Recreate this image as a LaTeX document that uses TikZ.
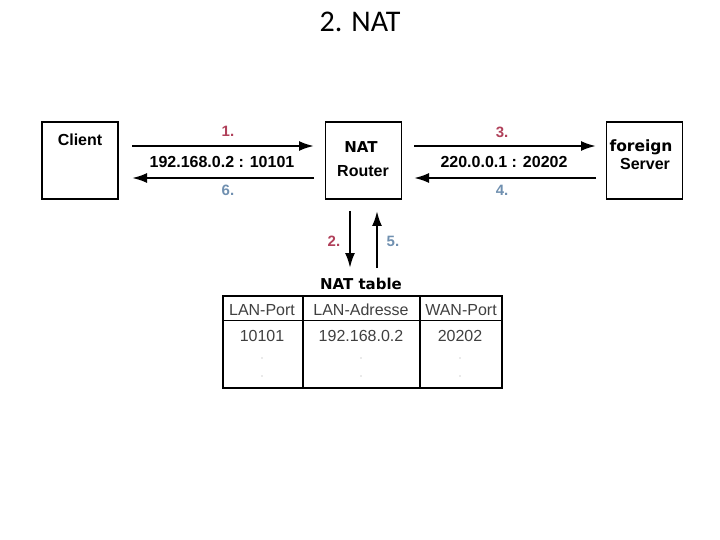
\documentclass[tikz,border=0pt]{standalone}
\usepackage{fontspec}
\setmainfont{Liberation Sans}
\newfontfamily\titlefont{Carlito}
\newfontfamily\djfont{DejaVu Sans}
\usetikzlibrary{arrows.meta}
\definecolor{redn}{HTML}{B0405A}
\definecolor{bluen}{HTML}{7090B0}
\definecolor{grayt}{HTML}{404040}
\tikzset{
  box/.style={draw, line width=1.8pt, minimum width=76pt, minimum height=77pt, inner sep=0pt},
  flow/.style={line width=2.2pt, -{Latex[length=15pt,width=10pt]}},
  lbl/.style={font=\bfseries\fontsize{16}{18}\selectfont},
  num/.style={font=\bfseries\fontsize{15}{17}\selectfont},
  cell/.style={font=\fontsize{16}{18}\selectfont, text=grayt},
  tline/.style={line width=1.6pt}
}
\begin{document}
\begin{tikzpicture}[x=1pt,y=-1pt]
\useasboundingbox (0,0) rectangle (720,540);
\node[font=\titlefont\fontsize{30}{33}\selectfont] (title) at (360,22) {2. NAT};

\node[box] (client) at (80,160.5) {};
\node[box] (router) at (363.5,160.5) {};
\node[box] (server) at (644.5,160.5) {};
\node[font=\bfseries\fontsize{16}{18}\selectfont] (ct) at (80,140) {Client};
\node[font=\djfont\bfseries\fontsize{15}{17}\selectfont] (rt1) at (361,147) {NAT};
\node[font=\bfseries\fontsize{16}{18}\selectfont] (rt2) at (363,171) {Router};
\node[font=\djfont\bfseries\fontsize{15.5}{17}\selectfont] (st1) at (641,147) {foreign};
\node[font=\bfseries\fontsize{16}{18}\selectfont] (st2) at (645,164) {Server};

% left arrows
\coordinate (c1) at (132,146); \coordinate (r1) at (314,146);
\coordinate (c2) at (132,178); \coordinate (r2) at (314,178);
\draw[flow] (c1) -- (r1);
\draw[flow] (r2) -- (c2);
\node[num, text=redn] (n1) at (228,131) {1.};
\node[lbl] (a1) at (222,162) {192.168.0.2 : 10101};
\node[num, text=bluen] (n6) at (228,190) {6.};

% right arrows
\coordinate (r3) at (414,146); \coordinate (s3) at (596,146);
\coordinate (r4) at (414,178); \coordinate (s4) at (596,178);
\draw[flow] (r3) -- (s3);
\draw[flow] (s4) -- (r4);
\node[num, text=redn] (n3) at (502,132) {3.};
\node[lbl] (a2) at (504,162) {220.0.0.1 : 20202};
\node[num, text=bluen] (n4) at (502,190) {4.};

% vertical arrows
\coordinate (v1a) at (350,211); \coordinate (v1b) at (350,268);
\coordinate (v2a) at (377,268); \coordinate (v2b) at (377,211);
\draw[flow] (v1a) -- (v1b);
\draw[flow] (v2a) -- (v2b);
\node[num, text=redn] (n2) at (334,241) {2.};
\node[num, text=bluen] (n5) at (393,241) {5.};

% NAT table
\node[font=\djfont\bfseries\fontsize{15}{17}\selectfont] (tt) at (361,284) {NAT table};
\draw[tline] (223,296) rectangle (502,388);
\draw[tline] (223,320.5) -- (502,320.5);
\draw[tline] (303,296) -- (303,388);
\draw[tline] (420,296) -- (420,388);
\node[cell] (h1) at (262,310) {LAN-Port};
\node[cell] (h2) at (361,310) {LAN-Adresse};
\node[cell] (h3) at (461,310) {WAN-Port};
\node[cell] (d1) at (262,336) {10101};
\node[cell] (d2) at (361,336) {192.168.0.2};
\node[cell] (d3) at (460,336) {20202};
\foreach \x in {262,361,460}{
  \fill[gray!70] (\x,358) circle (0.6pt);
  \fill[gray!70] (\x,376) circle (0.6pt);
}
\end{tikzpicture}
\end{document}
